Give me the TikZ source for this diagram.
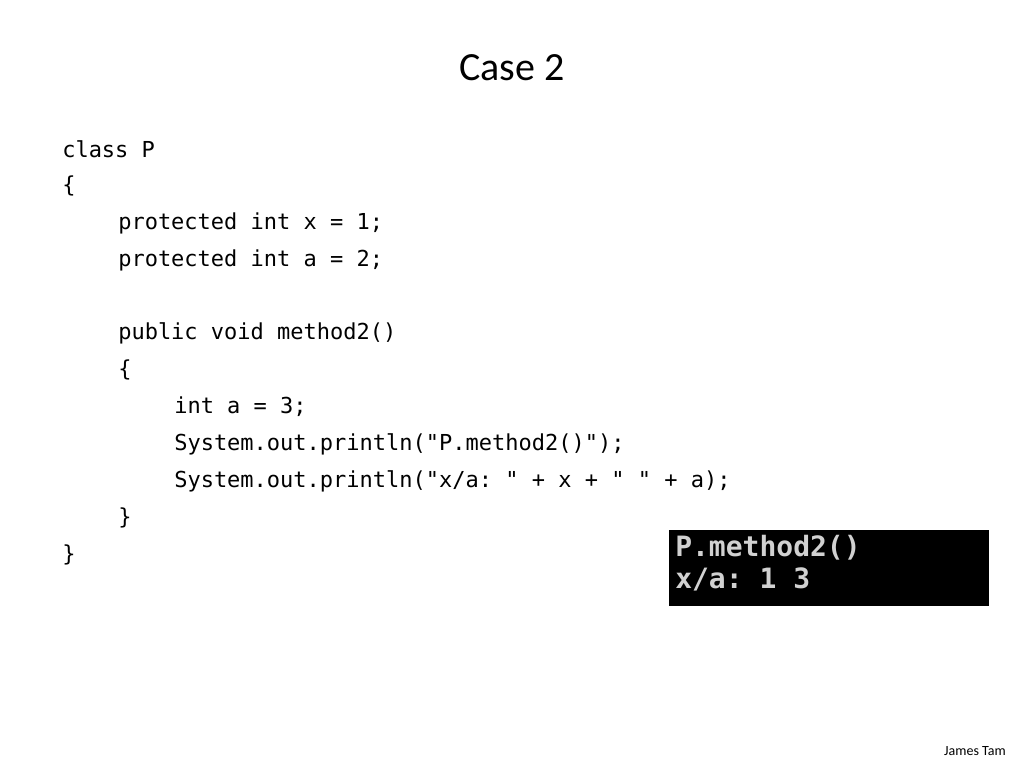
\documentclass[tikz,border=0pt]{standalone}
\usepackage{fontspec}
\setmainfont{Carlito}
\setmonofont{DejaVu Sans Mono}
\begin{document}
\begin{tikzpicture}[x=0.75pt,y=-0.75pt,
  code/.style={anchor=west,inner sep=0pt,font=\ttfamily\fontsize{16.5}{18}\selectfont},
  cons/.style={anchor=west,inner sep=0pt,text=black!18,font=\ttfamily\bfseries\fontsize{21}{22}\selectfont}]
\useasboundingbox (0,0) rectangle (1024,768);
\node[font=\fontsize{30}{34}\selectfont] (title) at (512,68) {Case 2};
\node[code] (l1) at (62,149) {class P};
\node[code] (l2) at (62,186) {\{};
\node[code] (l3) at (118,223) {protected int x = 1;};
\node[code] (l4) at (118,260) {protected int a = 2;};
\node[code] (l5) at (118,333) {public void method2()};
\node[code] (l6) at (118,370) {\{};
\node[code] (l7) at (174,407) {int a = 3;};
\node[code] (l8) at (174,444) {System.out.println("P.method2()");};
\node[code] (l9) at (174,481) {System.out.println("x/a: " + x + " " + a);};
\node[code] (l10) at (118,518) {\}};
\node[code] (l11) at (62,555) {\}};
\fill[black] (669,530) rectangle (989,606);
\node[cons] (c1) at (675,548) {P.method2()};
\node[cons] (c2) at (675,579) {x/a: 1 3};
\node[font=\fontsize{10.5}{12}\selectfont] (auth) at (975,751) {James Tam};
\end{tikzpicture}
\end{document}
